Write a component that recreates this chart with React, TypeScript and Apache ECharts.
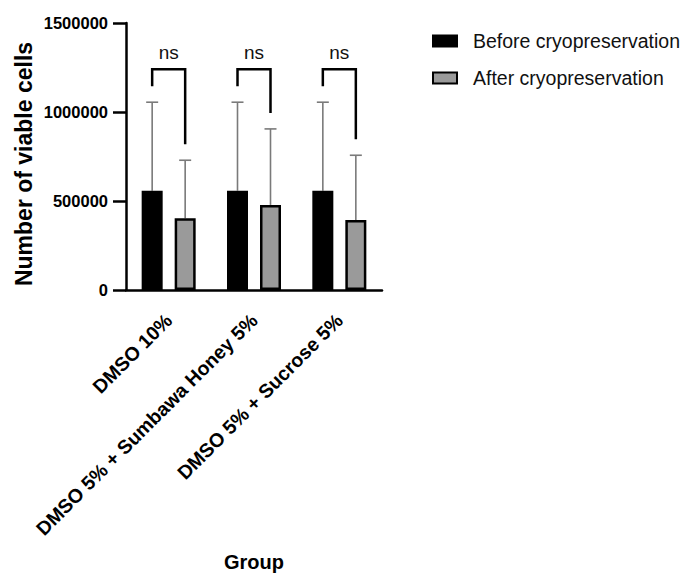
import React, { useEffect, useRef } from "react";
import * as echarts from "echarts";

const categories = ["DMSO 10%", "DMSO 5% + Sumbawa Honey 5%", "DMSO 5% + Sucrose 5%"];
const seriesNames = ["Before cryopreservation", "After cryopreservation"];
const beforeMean = [558000, 558000, 558000];
const beforeErr = [497000, 497000, 497000];
const afterMean = [403000, 478000, 393000];
const afterErr = [326000, 427000, 364000];
const significance = ["ns", "ns", "ns"];
const yMin = 0;
const yMax = 1500000;
const yInterval = 500000;
const bracketLevel = 1240000;
const yAxisTitle = "Number of viable cells";
const xAxisTitle = "Group";

const FONT = "'Liberation Sans', Arial, Helvetica, sans-serif";
const BAR_W = 21;
const BAR_GAP_PX = 12;
const OFFSET = (BAR_W + BAR_GAP_PX) / 2;

export default function App() {
  const ref = useRef<HTMLDivElement>(null);
  useEffect(() => {
    if (!ref.current) return;
    const chart = echarts.init(ref.current, null, { renderer: "svg" });

    const errData: any[] = [];
    categories.forEach((_, i) => {
      errData.push([i, beforeMean[i], beforeMean[i] + beforeErr[i], -1]);
      errData.push([i, afterMean[i], afterMean[i] + afterErr[i], 1]);
    });
    const bracketData = categories.map((_, i) => [
      i,
      beforeMean[i] + beforeErr[i],
      afterMean[i] + afterErr[i],
      bracketLevel,
    ]);

    chart.setOption({
      animation: false,
      backgroundColor: "#fff",
      grid: { left: 126, right: 310, top: 23, bottom: 284, containLabel: false },
      legend: {
        orient: "vertical",
        left: 432,
        top: 31,
        padding: 0,
        itemWidth: 24,
        itemHeight: 11,
        itemGap: 17,
        icon: "rect",
        data: seriesNames,
        textStyle: { fontSize: 19.5, fontFamily: FONT, color: "#111", padding: [0, 0, 0, 11] },
      },
      graphic: [
        {
          type: "text",
          x: 24,
          y: 164,
          rotation: Math.PI / 2,
          style: {
            text: yAxisTitle,
            fontSize: 23,
            fontWeight: "bold",
            fontFamily: FONT,
            fill: "#000",
            align: "center",
            verticalAlign: "middle",
          },
        },
      ],
      xAxis: {
        type: "category",
        data: categories,
        name: xAxisTitle,
        nameLocation: "middle",
        nameGap: 262,
        nameTextStyle: { fontSize: 20, fontWeight: "bold", fontFamily: FONT, color: "#000" },
        axisLine: { lineStyle: { color: "#000", width: 2.5 } },
        axisTick: { alignWithLabel: true, length: 11, lineStyle: { color: "#000", width: 2.5 } },
        axisLabel: {
          rotate: 45,
          margin: 27,
          fontSize: 19.5,
          fontWeight: "bold",
          fontFamily: FONT,
          color: "#000",
          interval: 0,
        },
        splitLine: { show: false },
      },
      yAxis: {
        type: "value",
        min: yMin,
        max: yMax,
        interval: yInterval,
        axisLine: { show: true, lineStyle: { color: "#000", width: 2.5 } },
        axisTick: { show: true, length: 13, lineStyle: { color: "#000", width: 2.5 } },
        axisLabel: {
          fontSize: 16.5,
          fontWeight: "bold",
          fontFamily: FONT,
          color: "#000",
          margin: 18,
          formatter: (v: number) => String(v),
        },
        splitLine: { show: false },
      },
      series: [
        {
          name: seriesNames[0],
          type: "bar",
          data: beforeMean,
          barWidth: BAR_W,
          barGap: (BAR_GAP_PX / BAR_W) * 100 + "%",
          itemStyle: { color: "#000", borderColor: "#000", borderWidth: 2.5 },
          z: 3,
        },
        {
          name: seriesNames[1],
          type: "bar",
          data: afterMean,
          barWidth: BAR_W,
          barGap: (BAR_GAP_PX / BAR_W) * 100 + "%",
          itemStyle: { color: "#9a9a9a", borderColor: "#000", borderWidth: 2.5 },
          z: 3,
        },
        {
          type: "custom",
          name: "err",
          data: errData,
          z: 2,
          silent: true,
          renderItem: (params: any, api: any) => {
            const c = api.value(0);
            const base = api.coord([c, api.value(1)]);
            const top = api.coord([c, api.value(2)]);
            const x = base[0] + api.value(3) * OFFSET;
            const style = { stroke: "#7a7a7a", lineWidth: 1.6 };
            return {
              type: "group",
              children: [
                { type: "line", shape: { x1: x, y1: base[1], x2: x, y2: top[1] }, style },
                { type: "line", shape: { x1: x - 6, y1: top[1], x2: x + 6, y2: top[1] }, style },
              ],
            };
          },
        },
        {
          type: "custom",
          name: "sig",
          data: bracketData,
          z: 4,
          silent: true,
          renderItem: (params: any, api: any) => {
            const c = api.value(0);
            const l = api.coord([c, api.value(1)]);
            const r = api.coord([c, api.value(2)]);
            const b = api.coord([c, api.value(3)]);
            const xl = l[0] - OFFSET;
            const xr = l[0] + OFFSET;
            const gap = 16;
            return {
              type: "group",
              children: [
                {
                  type: "polyline",
                  shape: {
                    points: [
                      [xl, l[1] - gap],
                      [xl, b[1]],
                      [xr, b[1]],
                      [xr, r[1] - gap],
                    ],
                  },
                  style: { stroke: "#000", lineWidth: 2.5, fill: "none" },
                },
                {
                  type: "text",
                  x: l[0],
                  y: b[1] - 17,
                  style: {
                    text: significance[params.dataIndex],
                    fontSize: 19,
                    fontFamily: FONT,
                    fill: "#111",
                    align: "center",
                    verticalAlign: "middle",
                  },
                },
              ],
            };
          },
        },
      ],
    });
    return () => chart.dispose();
  }, []);
  return (
    <div
      ref={ref}
      style={{ position: "fixed", left: 0, top: 0, width: 692, height: 574 }}
    />
  );
}
